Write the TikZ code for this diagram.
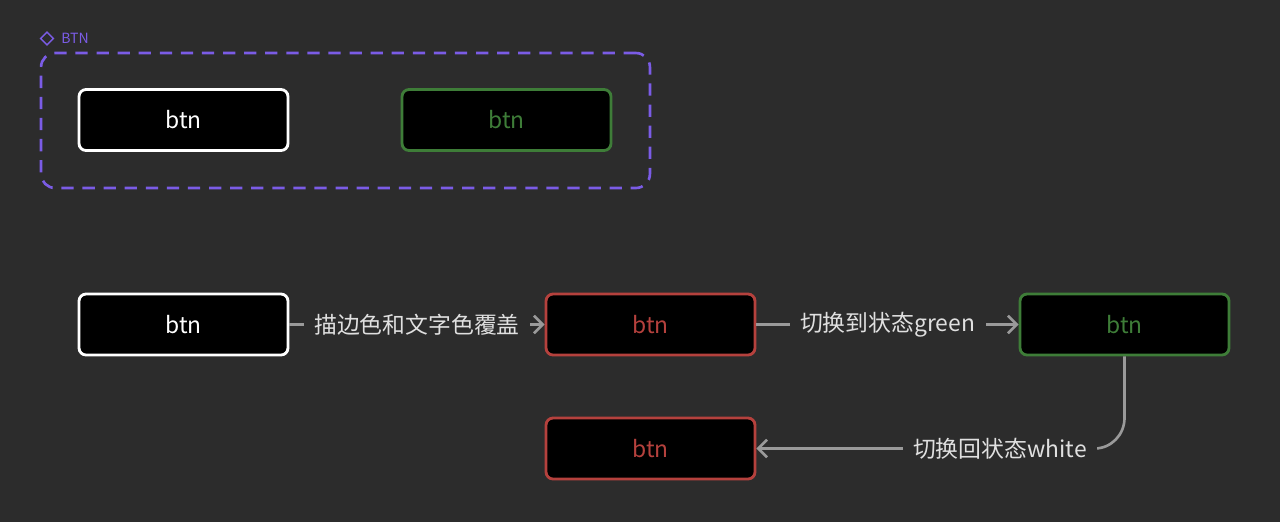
\documentclass[tikz,border=0pt]{standalone}
\usepackage{fontspec}
\setmainfont{Noto Sans CJK SC}
\usetikzlibrary{arrows.meta}
\definecolor{bg}{HTML}{2C2C2C}
\definecolor{grn}{HTML}{3E7D38}
\definecolor{rd}{HTML}{B5413D}
\definecolor{pur}{HTML}{7B5CE6}
\definecolor{conn}{HTML}{9A9A9A}
\definecolor{lbl}{HTML}{E0E0E0}
\begin{document}
\begin{tikzpicture}[x=0.02cm,y=-0.02cm,
  btn/.style={draw, line width=1.6pt, rounded corners=4pt, fill=black, minimum width=4.18cm, minimum height=1.22cm, font=\fontsize{13}{15}\selectfont},
  wbtn/.style={btn, draw=white, text=white},
  gbtn/.style={btn, draw=grn, text=grn},
  rbtn/.style={btn, draw=rd, text=rd},
  conn/.style={draw=conn, line width=1.5pt, -{Straight Barb[length=5pt,width=10pt]}},
  lab/.style={fill=bg, text=lbl, inner sep=6pt, font=\fontsize{13}{15}\selectfont}]
\fill[bg] (0,0) rectangle (1280,522);
\useasboundingbox (0,0) rectangle (1280,522);
\node[draw=pur, dashed, dash pattern=on 7pt off 5pt, line width=1.5pt, rounded corners=8pt, minimum width=12.18cm, minimum height=2.7cm] (grp) at (345.5,120.5) {};
\node[text=pur, font=\fontsize{8}{10}\selectfont] (gl) at (75,38.5) {BTN};
\node[draw=pur, line width=0.8pt, rotate=45, minimum size=0.18cm, inner sep=0pt] (gi) at (47,38.5) {};
\node[wbtn] (a1) at (183.5,120) {btn};
\node[gbtn] (a2) at (506.5,120) {btn};
\node[wbtn] (b1) at (183.5,324.5) {btn};
\node[rbtn] (b2) at (650.5,324.5) {btn};
\node[gbtn] (b3) at (1124.5,324.5) {btn};
\node[rbtn] (b4) at (650.5,448.5) {btn};
\draw[conn] (b1) -- node[lab] {描边色和文字色覆盖} (b2);
\draw[conn] (b2) -- node[lab] {切换到状态green} (b3);
\coordinate (c1) at (1124.5,448.5);
\draw[conn] (b3.south) -- (1124.5,418) to[out=-90,in=0] (1094.5,448.5) -- node[lab, pos=0.28] {切换回状态white} (b4.east);
\end{tikzpicture}
\end{document}
